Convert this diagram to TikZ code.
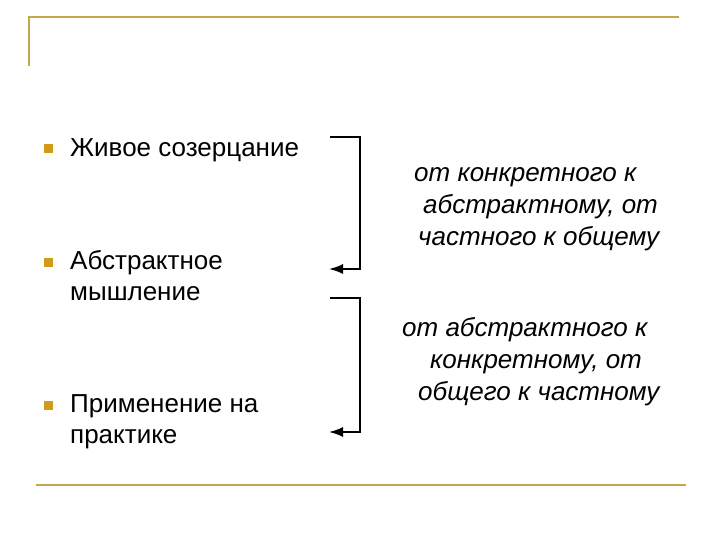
\documentclass[tikz,border=0pt]{standalone}
\usepackage{fontspec}
\setmainfont{Liberation Sans}
\usetikzlibrary{positioning, arrows.meta}
\definecolor{slidegold}{RGB}{196,166,76}
\definecolor{bulletgold}{RGB}{206,156,24}

\begin{document}
\begin{tikzpicture}[x=1pt, y=-1pt,
    item/.style={anchor=base west, font=\fontsize{26}{31}\selectfont, align=left, inner sep=0pt},
    bullet/.style={fill=bulletgold, minimum size=9pt, inner sep=0pt},
    note/.style={anchor=base west, font=\fontsize{26}{32}\selectfont\itshape, align=left, inner sep=0pt},
    rule/.style={slidegold, line width=2pt},
    bracket/.style={line width=1.8pt, -{Latex[length=14pt,width=10pt]}}]
    \useasboundingbox (0,0) rectangle (720,540);

    % slide frame
    \draw[rule] (29,66) -- (29,17) -- (679,17);
    \draw[rule, line width=2.6pt] (36,485) -- (686,485);

    % items (anchored at the baseline of their last line)
    \node[item] (live) at (70,157) {Живое созерцание};
    \node[item] (abstr) at (70,300) {Абстрактное\\мышление};
    \node[item] (apply) at (70,443) {Применение на\\практике};
    \node[bullet] (b1) at (48.5,149) {};
    \node[bullet] (b2) at (48.5,262) {};
    \node[bullet] (b3) at (48.5,405) {};

    % brackets
    \coordinate (up1) at (330,137);
    \coordinate (down1) at (329,269);
    \coordinate (up2) at (330,298);
    \coordinate (down2) at (329,432);
    \draw[bracket] (up1) -- ++(30,0) |- (down1);
    \draw[bracket] (up2) -- ++(30,0) |- (down2);

    % notes
    \node[note] (ind) at (414,245) {от конкретного к\\\hspace*{9pt}абстрактному, от\\\hspace*{4pt}частного к общему};
    \node[note] (ded) at (402,400) {от абстрактного к\\\hspace*{28pt}конкретному, от\\\hspace*{16pt}общего к частному};
\end{tikzpicture}
\end{document}
